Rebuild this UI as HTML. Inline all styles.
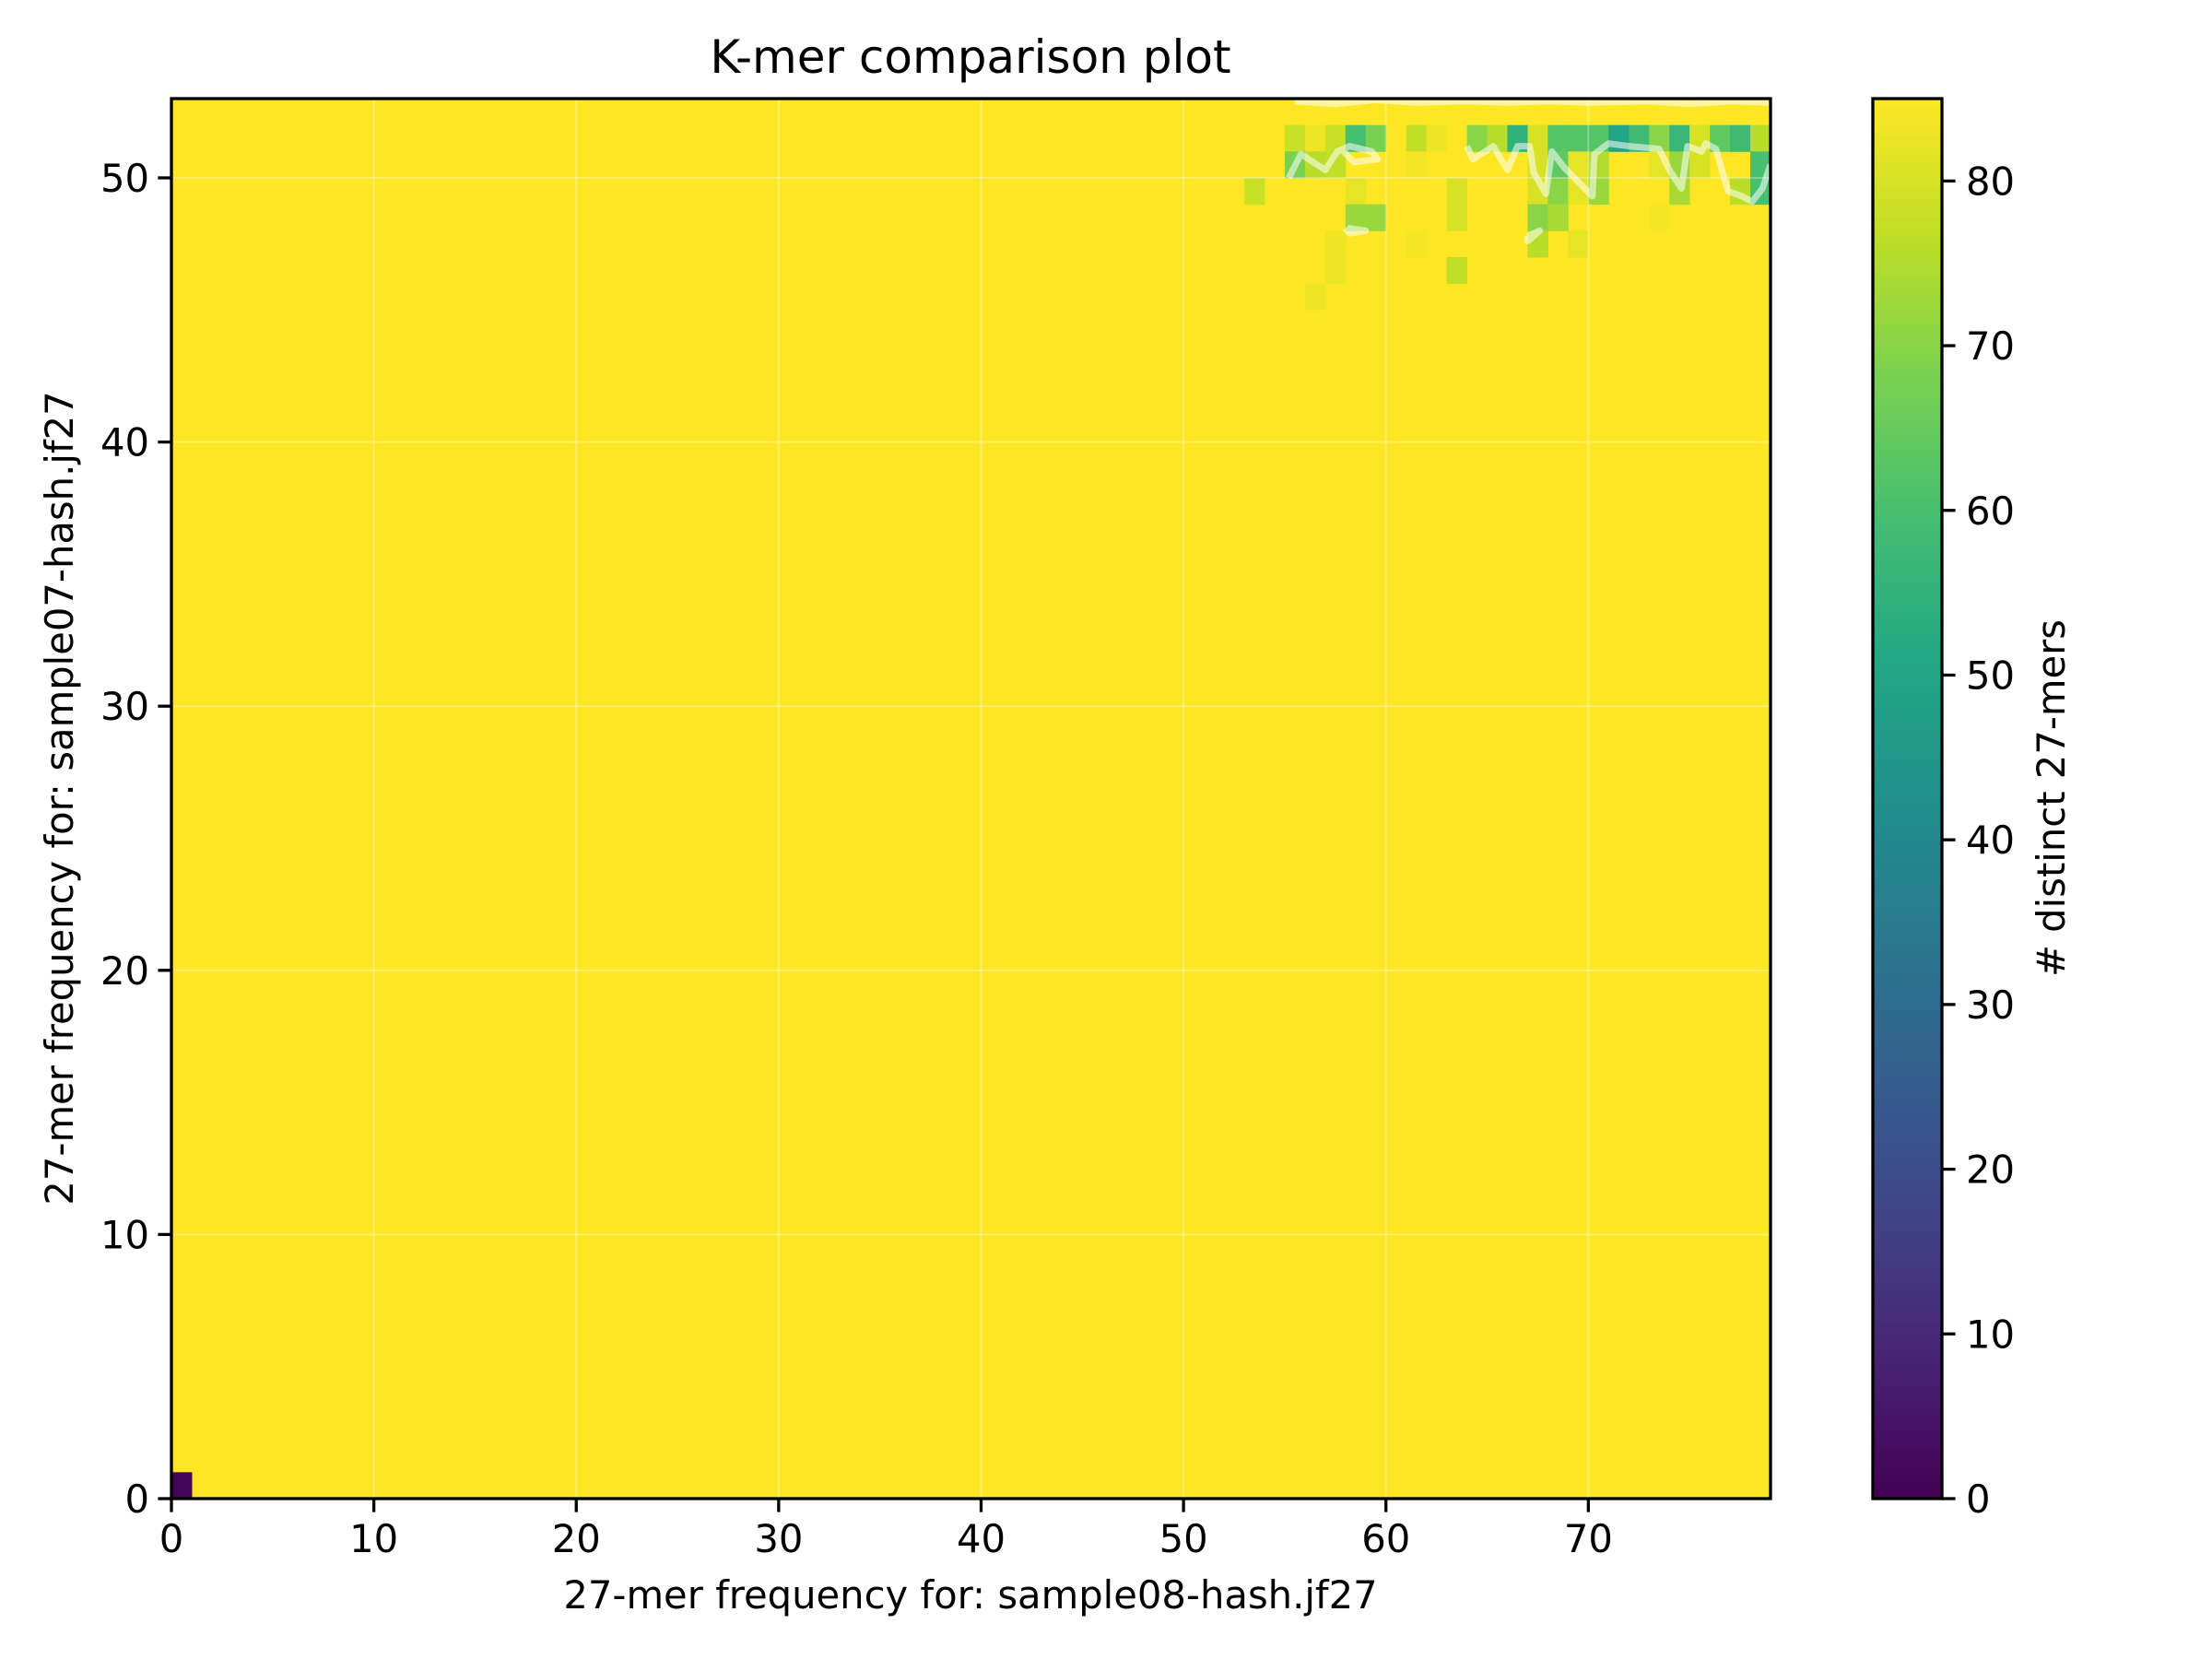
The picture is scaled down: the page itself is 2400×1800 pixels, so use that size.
<!DOCTYPE html>
<html><head><meta charset="utf-8">
<style>
html,body{margin:0;padding:0;background:#fff;}
svg{display:block;font-family:"DejaVu Sans","Liberation Sans",sans-serif;}
</style></head>
<body>
<svg id="chart" width="2400" height="1800" viewBox="0 0 2400 1800" xmlns="http://www.w3.org/2000/svg">
<defs>
<linearGradient id="viridis" x1="0" y1="1" x2="0" y2="0"></linearGradient>
<clipPath id="plotclip"><rect x="186" y="107" width="1735" height="1519"/></clipPath>
</defs>
<rect x="0" y="0" width="2400" height="1800" fill="#fff"/>
<text x="1053" y="79" font-size="50" text-anchor="middle">K-mer comparison plot</text>
<g id="heat" clip-path="url(#plotclip)"></g>
<g id="grid" clip-path="url(#plotclip)"></g>
<g id="contours" clip-path="url(#plotclip)"></g>
<rect x="186" y="107" width="1735" height="1519" fill="none" stroke="#000" stroke-width="3.3"/>
<g id="xticks"></g>
<g id="yticks"></g>
<text x="1053" y="1745" font-size="41.7" text-anchor="middle">27-mer frequency for: sample08-hash.jf27</text>
<text x="0" y="0" font-size="41.7" text-anchor="middle" transform="translate(79,866) rotate(-90)">27-mer frequency for: sample07-hash.jf27</text>
<rect x="2032" y="107" width="75" height="1519" fill="url(#viridis)" stroke="#000" stroke-width="3.3"/>
<g id="cticks"></g>
<text x="0" y="0" font-size="41.7" text-anchor="middle" transform="translate(2240,866) rotate(-90)"># distinct 27-mers</text>
</svg>
<script>
// ---- data ----
const xTicks = [0,10,20,30,40,50,60,70];
const yTicks = [0,10,20,30,40,50];
const cTicks = [0,10,20,30,40,50,60,70,80];
const defaultCount = 85;
// cells that differ from the default: [x, y, count]
const cellX = [0, 55,56,57,58,59,61,62,64,65,66,67,68,69,70,71,72,73,74,75,76,77,78,
               55,56,57,61,67,68,69,70,73,74,75,78,
               53,58,63,67,68,69,70,74,77,78,
               58,59,63,67,68,73,
               57,61,67,69,
               57,63,
               56];
const cellY = [0, 51,51,51,51,51,51,51,51,51,51,51,51,51,51,51,51,51,51,51,51,51,51,
               50,50,50,50,50,50,50,50,50,50,50,50,
               49,49,49,49,49,49,49,49,49,49,
               48,48,48,48,48,48,
               47,47,47,47,
               46,46,
               45];
const cellCount = [1, 78,83,78,60,68,77,83,70,76,55,80,62,62,62,50,58,70,57,80,64,58,76,
               68,76,77,84,80,64,82,75,82,72,80,60,
               78,82,80,80,70,82,72,74,76,60,
               72,72,80,70,74,84,
               83,84,76,82,
               83,77,
               83];
// contour polylines (data coords)
const contourA_x = [55.2,55.8,57,57.6,58.2,59.3,59.6,58.4,57.8];
const contourA_y = [50.0,50.9,50.3,51.0,51.2,51.0,50.7,50.6,51.1];
const contourB_x = [64.0,64.3,65.3,66.0,66.5,67.1,67.3,67.9,68.2,68.8,70.2,70.3,71.0,72.0,73.5,74.0,74.6,74.9,75.6,75.8,76.3,76.9,77.6,78.1,78.6,79];
const contourB_y = [51.2,50.7,51.2,50.3,51.2,51.2,50.2,49.4,51.0,50.4,49.3,50.9,51.3,51.2,51.1,50.3,49.6,51.2,51.0,51.3,51.1,49.5,49.3,49.1,49.6,50.5];
const contourC_x = [55.5,57.5,59.5,61.5,64,66,68,70,73,75,77,79];
const contourC_y = [52.9,52.8,52.95,52.85,52.9,52.85,52.9,52.85,52.9,52.8,52.9,52.85];
const contourD_x = [58.0,58.2,59.0,58.1];
const contourD_y = [48.1,47.9,48.0,48.1];
const contourE_x = [67.0,67.6,67.0,67.0];
const contourE_y = [47.8,48.0,47.6,47.8];

// ---- axes ----
const PX0=186, PX1=1921, PY0=1626, PY1=107;
const XMAX=79, YMAX=53, CMAX=85;
const sx = v => PX0 + v*(PX1-PX0)/XMAX;
const sy = v => PY0 - v*(PY0-PY1)/YMAX;
const CB_Y0=1626, CB_Y1=107;
const sc = v => CB_Y0 - v*(CB_Y0-CB_Y1)/CMAX;

const vir = [[68,1,84],[72,35,116],[64,67,135],[52,94,141],[41,120,142],[32,144,140],[34,167,132],[68,190,112],[121,209,81],[189,222,38],[253,231,37]];
function viridis(t){
  t=Math.max(0,Math.min(1,t));
  const p=t*(vir.length-1), i=Math.min(vir.length-2,Math.floor(p)), f=p-i;
  const c=vir[i].map((a,k)=>Math.round(a+(vir[i+1][k]-a)*f));
  return `rgb(${c[0]},${c[1]},${c[2]})`;
}
const NS='http://www.w3.org/2000/svg';
function mk(tag, attrs, parent){
  const e=document.createElementNS(NS,tag);
  for(const k in attrs) e.setAttribute(k, attrs[k]);
  parent.appendChild(e); return e;
}
// gradient
const grad=document.getElementById('viridis');
for(let i=0;i<vir.length;i++){
  mk('stop',{offset:(i/(vir.length-1)),'stop-color':viridis(i/(vir.length-1))},grad);
}
// heatmap
const heat=document.getElementById('heat');
const bg=mk('rect',{x:sx(0),y:sy(YMAX),width:sx(XMAX)-sx(0),height:sy(0)-sy(YMAX),fill:viridis(defaultCount/CMAX)},heat);


for(let i=0;i<cellX.length;i++){
  const r=mk('rect',{x:sx(cellX[i]),y:sy(cellY[i]+1),width:sx(cellX[i]+1)-sx(cellX[i])+0.5,height:sy(cellY[i])-sy(cellY[i]+1)+0.5,fill:viridis(cellCount[i]/CMAX)},heat);
  
  
}
// grid
const grid=document.getElementById('grid');
xTicks.forEach(v=>{ if(v>0){const l=mk('line',{x1:sx(v),x2:sx(v),y1:PY0,y2:PY1,stroke:'#fff','stroke-opacity':0.3,'stroke-width':2},grid);
  
  }});
yTicks.forEach(v=>{ if(v>0){const l=mk('line',{x1:PX0,x2:PX1,y1:sy(v),y2:sy(v),stroke:'#fff','stroke-opacity':0.3,'stroke-width':2},grid);
  
  }});
// contours
const cg=document.getElementById('contours');
[[contourA_x,contourA_y],[contourB_x,contourB_y],[contourC_x,contourC_y],[contourD_x,contourD_y],[contourE_x,contourE_y]].forEach(([xs,ys])=>{
  const pts=xs.map((x,i)=>sx(x)+','+sy(ys[i])).join(' ');
  const p=mk('polyline',{points:pts,fill:'none',stroke:'#fff','stroke-opacity':0.55,'stroke-width':7,'stroke-linejoin':'round'},cg);
  
  
});
// x ticks
const xg=document.getElementById('xticks');
xTicks.forEach(v=>{
  const l=mk('line',{x1:sx(v),x2:sx(v),y1:PY0,y2:PY0+14.6,stroke:'#000','stroke-width':3.3},xg);
  
  
  const t=mk('text',{x:sx(v),y:1684,'font-size':41.7,'text-anchor':'middle'},xg);
  t.textContent=v;
  
  
});
// y ticks
const yg=document.getElementById('yticks');
yTicks.forEach(v=>{
  const l=mk('line',{x1:PX0-14.6,x2:PX0,y1:sy(v),y2:sy(v),stroke:'#000','stroke-width':3.3},yg);
  
  
  const t=mk('text',{x:PX0-24,y:sy(v)+15,'font-size':41.7,'text-anchor':'end'},yg);
  t.textContent=v;
  
  
});
// colorbar ticks
const ccg=document.getElementById('cticks');
cTicks.forEach(v=>{
  const l=mk('line',{x1:2107,x2:2121.6,y1:sc(v),y2:sc(v),stroke:'#000','stroke-width':3.3},ccg);
  
  
  const t=mk('text',{x:2133,y:sc(v)+15,'font-size':41.7,'text-anchor':'start'},ccg);
  t.textContent=v;
  
  
});
</script>
</body></html>
